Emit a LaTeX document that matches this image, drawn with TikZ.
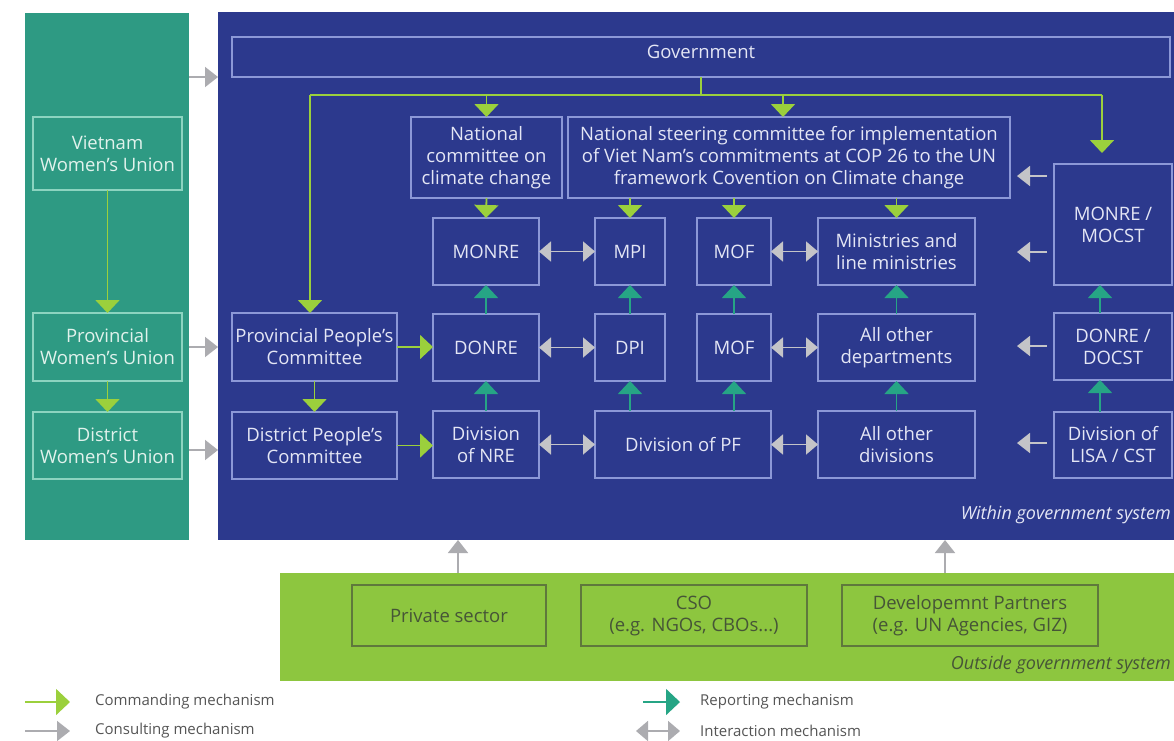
\documentclass[tikz,border=0pt]{standalone}
\usepackage{fontspec}
\setmainfont{Open Sans}
\usetikzlibrary{arrows.meta,calc}
\definecolor{panelblue}{RGB}{44,57,141}
\definecolor{tealpanel}{RGB}{46,154,131}
\definecolor{bandgreen}{RGB}{141,198,63}
\definecolor{cmdgreen}{RGB}{155,208,60}
\definecolor{reportteal}{RGB}{38,165,133}
\definecolor{consultgray}{RGB}{172,172,176}
\definecolor{innergray}{RGB}{196,196,200}
\definecolor{boxline}{RGB}{140,152,215}
\definecolor{boxtext}{RGB}{228,230,245}
\definecolor{tealline}{RGB}{140,212,192}
\definecolor{tealtext}{RGB}{225,242,236}
\definecolor{bandline}{RGB}{95,120,60}
\definecolor{bandtext}{RGB}{70,85,55}
\definecolor{legendtext}{RGB}{85,85,85}
\tikzset{
  bg/.style={inner sep=0pt, outer sep=0pt, anchor=north west, draw=none},
  gbox/.style={draw=boxline, line width=1.6pt, text=boxtext, align=center, inner sep=0pt, outer sep=0pt, font=\fontsize{18.5}{22}\selectfont},
  tbox/.style={gbox, draw=tealline, text=tealtext},
  obox/.style={gbox, draw=bandline, text=bandtext},
  cmdline/.style={draw=cmdgreen, line width=1.8pt},
  cmd/.style={cmdline, -{Triangle[width=24pt,length=13pt]}},
  rep/.style={draw=reportteal, line width=1.8pt, -{Triangle[width=24pt,length=13pt]}},
  inter/.style={draw=innergray, line width=1.8pt, {Triangle[width=20pt,length=12pt]}-{Triangle[width=20pt,length=12pt]}},
  cons/.style={draw=consultgray, line width=1.8pt, -{Triangle[width=20pt,length=13pt]}},
  icons/.style={cons, draw=innergray},
  legtxt/.style={anchor=west, text=legendtext, inner sep=0pt, font=\fontsize{15}{18}\selectfont},
  sysnote/.style={anchor=east, inner sep=0pt, font=\fontsize{18}{22}\selectfont\itshape},
}
\begin{document}
\begin{tikzpicture}[x=1pt,y=-1pt]
\useasboundingbox (0,0) rectangle (1174,740);
\clip (0,0) rectangle (1174,740);
\fill[white] (0,0) rectangle (1174,740);

% backgrounds
\node[bg, fill=tealpanel, minimum width=164pt, minimum height=527pt] (tealcol) at (25,13) {};
\node[bg, fill=panelblue, minimum width=972pt, minimum height=528pt] (blue) at (218,12) {};
\node[bg, fill=bandgreen, minimum width=910pt, minimum height=108pt] (band) at (280,573) {};

% government system
\node[gbox, minimum width=938pt, minimum height=40pt, text height=12pt, text depth=10pt] (gov) at (701,57) {Government};
\node[gbox, minimum width=151pt, minimum height=81pt] (ncc) at (486.5,157.5) {National\\committee on\\climate change};
\node[gbox, minimum width=442pt, minimum height=81pt] (nsc) at (789,157.5) {National steering committee for implementation\\of Viet Nam’s commitments at COP 26 to the UN\\framework Covention on Climate change};

\node[gbox, minimum width=106pt, minimum height=67pt] (monre) at (486,251.5) {MONRE};
\node[gbox, minimum width=70pt, minimum height=67pt] (mpi) at (630,251.5) {MPI};
\node[gbox, minimum width=74pt, minimum height=67pt] (mofa) at (734,251.5) {MOF};
\node[gbox, minimum width=157pt, minimum height=67pt] (mins) at (896.5,251.5) {Ministries and\\line ministries};
\node[gbox, minimum width=118pt, minimum height=121pt] (mm) at (1113,224.5) {MONRE /\\MOCST};

\node[gbox, minimum width=165pt, minimum height=68pt] (ppc) at (314.5,347) {Provincial People’s\\Committee};
\node[gbox, minimum width=106pt, minimum height=67pt] (donre) at (486,347.5) {DONRE};
\node[gbox, minimum width=70pt, minimum height=67pt] (dpi) at (630,347.5) {DPI};
\node[gbox, minimum width=74pt, minimum height=67pt] (mofb) at (734,347.5) {MOF};
\node[gbox, minimum width=157pt, minimum height=67pt] (alldep) at (896.5,347.5) {All other\\departments};
\node[gbox, minimum width=118pt, minimum height=67pt] (dd) at (1113,346.5) {DONRE /\\DOCST};

\node[gbox, minimum width=165pt, minimum height=67pt] (dpc) at (314.5,445.5) {District People’s\\Committee};
\node[gbox, minimum width=106pt, minimum height=67pt] (dnre) at (486,444.5) {Division\\of NRE};
\node[gbox, minimum width=176pt, minimum height=67pt] (dpf) at (683,444.5) {Division of PF};
\node[gbox, minimum width=157pt, minimum height=67pt] (alldiv) at (896.5,444.5) {All other\\divisions};
\node[gbox, minimum width=118pt, minimum height=66pt] (lisa) at (1113,445) {Division of\\LISA / CST};

\node[sysnote, text=boxtext] (within) at (1171,515) {Within government system};

% women's union
\node[tbox, minimum width=149pt, minimum height=73pt] (vwu) at (107.5,153.5) {Vietnam\\Women’s Union};
\node[tbox, minimum width=149pt, minimum height=68pt] (pwu) at (107.5,347) {Provincial\\Women’s Union};
\node[tbox, minimum width=149pt, minimum height=67pt] (dwu) at (107.5,445.5) {District\\Women’s Union};

% outside system
\node[obox, minimum width=194pt, minimum height=61pt] (priv) at (449,615.5) {Private sector};
\node[obox, minimum width=226pt, minimum height=61pt] (cso) at (694,615.5) {CSO\\(e.g. NGOs, CBOs...)};
\node[obox, minimum width=256pt, minimum height=61pt] (dp) at (970,615.5) {Developemnt Partners\\(e.g. UN Agencies, GIZ)};
\node[sysnote, text=bandtext] (outside) at (1171,665) {Outside government system};

% commanding (green)
\coordinate (gj) at (701,95);
\coordinate (gl) at (310,95);
\coordinate (gr) at (1102,95);
\coordinate (grend) at (1102,153);
\draw[cmdline] (gov.south -| gj) -- (gj);
\draw[cmdline] (gl) -- (gr);
\draw[cmd] (gl) -- (gl |- ppc.north);
\draw[cmd] (ncc.north |- gj) -- (ncc.north);
\draw[cmd] (783,95) -- (nsc.north -| 783,0);
\draw[cmd] (gr) -- (grend);
\draw[cmd] (ncc.south) -- (monre.north);
\draw[cmd] (nsc.south -| mpi.north) -- (mpi.north);
\draw[cmd] (nsc.south -| mofa.north) -- (mofa.north);
\draw[cmd] (nsc.south -| mins.north) -- (mins.north);
\draw[cmd] (ppc.south) -- (dpc.north);
\draw[cmd] (ppc.east) -- (donre.west |- ppc.east);
\draw[cmd] (dpc.east) -- (dnre.west |- dpc.east);
\draw[cmd] (vwu.south) -- (pwu.north);
\draw[cmd] (pwu.south) -- (dwu.north);

% reporting (teal)
\draw[rep] (donre.north) -- (monre.south);
\draw[rep] (dpi.north) -- (mpi.south);
\draw[rep] (mofb.north) -- (mofa.south);
\draw[rep] (alldep.north) -- (mins.south);
\draw[rep] (dnre.north) -- (donre.south);
\draw[rep] (dpf.north -| dpi.south) -- (dpi.south);
\draw[rep] (dpf.north -| mofb.south) -- (mofb.south);
\draw[rep] (alldiv.north) -- (alldep.south);
\draw[rep] (dd.north -| 1100,0) -- (mm.south -| 1100,0);
\draw[rep] (lisa.north -| 1100,0) -- (dd.south -| 1100,0);

% interaction (grey double)
\draw[inter] (monre.east) -- (mpi.west);
\draw[inter] (mofa.east) -- (mins.west);
\draw[inter] (donre.east) -- (dpi.west);
\draw[inter] (mofb.east) -- (alldep.west);
\draw[inter] (dnre.east) -- (dpf.west);
\draw[inter] (dpf.east) -- (alldiv.west);

% consulting (grey)
\draw[cons] (tealcol.east |- gov.south) -- (blue.west |- gov.south);
\draw[cons] (tealcol.east |- pwu) -- (blue.west |- pwu);
\draw[cons] (tealcol.east |- 0,450) -- (blue.west |- 0,450);
\coordinate (r1a) at (1047,176); \coordinate (r1b) at (1017,176);
\coordinate (r2a) at (1047,252); \coordinate (r2b) at (1017,252);
\coordinate (r3a) at (1047,346); \coordinate (r3b) at (1017,346);
\coordinate (r4a) at (1047,443); \coordinate (r4b) at (1017,443);
\draw[icons] (r1a) -- (r1b);
\draw[icons] (r2a) -- (r2b);
\draw[icons] (r3a) -- (r3b);
\draw[icons] (r4a) -- (r4b);
\draw[cons] (band.north -| 458,0) -- (blue.south -| 458,0);
\draw[cons] (band.north -| 945,0) -- (blue.south -| 945,0);

% legend
\coordinate (l1a) at (25,702); \coordinate (l1b) at (70,702);
\coordinate (l2a) at (25,731); \coordinate (l2b) at (70,731);
\coordinate (l3a) at (643,702); \coordinate (l3b) at (680,702);
\coordinate (l4a) at (636,731); \coordinate (l4b) at (680,731);
\draw[cmd, -{Triangle[width=26pt,length=14pt]}] (l1a) -- (l1b);
\draw[cons, -{Triangle[width=20pt,length=13pt]}] (l2a) -- (l2b);
\draw[rep, -{Triangle[width=26pt,length=14pt]}] (l3a) -- (l3b);
\draw[inter, draw=consultgray] (l4a) -- (l4b);
\node[legtxt] (t1) at (95,702) {Commanding mechanism};
\node[legtxt] (t2) at (95,731) {Consulting mechanism};
\node[legtxt] (t3) at (700,702) {Reporting mechanism};
\node[legtxt] (t4) at (700,731) {Interaction mechanism};
\end{tikzpicture}
\end{document}
